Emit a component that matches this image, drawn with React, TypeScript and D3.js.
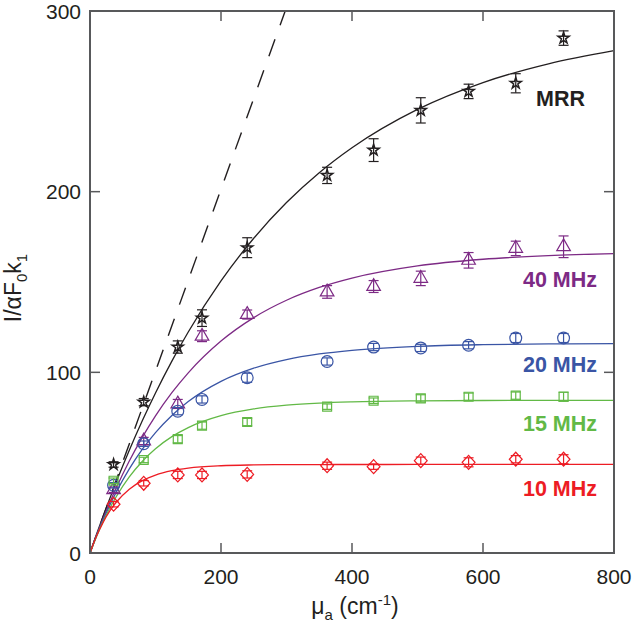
import React from 'react';
import * as d3 from 'd3';

const muA = [36, 82, 134, 171, 240, 362, 433, 505, 578, 650, 723];

const mrrVals = [49, 83.5, 114, 130, 169, 209, 223, 245, 255.5, 260, 285];
const mrrErr = [1.5, 2, 3.4, 4.6, 5.5, 4.5, 6.3, 7, 4, 5.3, 4];
const mhz40Vals = [35, 62, 82.5, 120, 132, 144.5, 147.5, 152, 162, 168.6, 169.5];
const mhz40Err = [1.5, 2, 2.5, 3, 2.5, 3.5, 3.3, 4, 4.3, 4, 6];
const mhz20Vals = [37.5, 60.5, 78.5, 85, 97, 106, 114, 113.5, 115, 119, 119];
const mhz20Err = [1.5, 1.5, 2, 2, 2.5, 2, 2, 2, 2, 2.5, 2.5];
const mhz15Vals = [40, 51.5, 63, 70.5, 72.5, 81, 84.3, 85.6, 86.5, 87.1, 86.5];
const mhz15Err = [1.5, 1.5, 2, 2, 2, 1.5, 1.5, 2, 2, 2, 2.5];
const mhz10Vals = [27, 38.6, 43.2, 43.2, 43.5, 48.3, 47.8, 51.1, 50.2, 51.9, 51.9];
const mhz10Err = [1.5, 1.5, 2, 2, 2, 2, 1.5, 2, 2.5, 2, 2.5];

// fitted curves
const fitX = [0, 10, 20, 30, 40, 60, 80, 100, 125, 150, 200, 250, 300, 350, 400, 500, 600, 700, 800];
const fitMRR = [0, 10.35, 20.32, 29.97, 39.26, 56.91, 73.31, 88.59, 106.23, 122.34, 150.6, 174.2, 193.96, 210.48, 224.29, 245.53, 260.4, 270.78, 278.07];
const fit40 = [0, 9.82, 19.05, 27.75, 35.95, 50.9, 64.16, 75.9, 88.71, 99.72, 117.3, 130.29, 139.9, 146.98, 152.2, 158.93, 162.59, 164.6, 165.69];
const fit20 = [0, 9.51, 18.22, 26.24, 33.59, 46.54, 57.45, 66.65, 76.14, 83.81, 95.0, 102.31, 107.07, 110.18, 112.21, 114.39, 115.32, 115.71, 115.88];
const fit15 = [0, 9.18, 17.36, 24.65, 31.15, 42.11, 50.81, 57.72, 64.41, 69.43, 76.02, 79.73, 81.81, 82.99, 83.65, 84.23, 84.42, 84.47, 84.49];
const fit10 = [0, 9.39, 16.98, 23.12, 28.08, 35.33, 40.07, 43.16, 45.57, 46.99, 48.3, 48.76, 48.92, 48.97, 48.99, 49, 49, 49, 49];

// dashed reference line (linear limit)
const refLineX = [0, 298];
const refLineY = [0, 300];

const xTicks = [0, 200, 400, 600, 800];
const yTicks = [0, 100, 200, 300];
const seriesLabels = ['MRR', '40 MHz', '20 MHz', '15 MHz', '10 MHz'];

const W = 632, H = 631;
const left = 90, right = 614, top = 11, bottom = 553;

const diamond = {
  draw(ctx: any, size: number) {
    const h = Math.sqrt(size) * 0.78;
    const w = h * 0.92;
    ctx.moveTo(0, -h);
    ctx.lineTo(w, 0);
    ctx.lineTo(0, h);
    ctx.lineTo(-w, 0);
    ctx.closePath();
  },
};

export default function App() {
  const x = d3.scaleLinear().domain([0, 800]).range([left, right]);
  const y = d3.scaleLinear().domain([0, 300]).range([bottom, top]);
  const line = d3.line<[number, number]>().x(d => x(d[0])).y(d => y(d[1])).curve(d3.curveMonotoneX);

  const series = [
    { name: seriesLabels[0], vals: mrrVals, err: mrrErr, fit: fitMRR, color: '#231f20', sym: d3.symbolStar, size: 38, sw: 1.5, lx: 585, ly: 106 },
    { name: seriesLabels[1], vals: mhz40Vals, err: mhz40Err, fit: fit40, color: '#7d2a85', sym: d3.symbolTriangle, size: 80, sw: 1.2, lx: 597, ly: 287 },
    { name: seriesLabels[2], vals: mhz20Vals, err: mhz20Err, fit: fit20, color: '#3a55a5', sym: d3.symbolCircle, size: 110, sw: 1.2, lx: 597, ly: 372 },
    { name: seriesLabels[3], vals: mhz15Vals, err: mhz15Err, fit: fit15, color: '#62b946', sym: d3.symbolSquare, size: 80, sw: 1.2, lx: 597, ly: 431 },
    { name: seriesLabels[4], vals: mhz10Vals, err: mhz10Err, fit: fit10, color: '#ed1c24', sym: diamond, size: 80, sw: 1.2, lx: 597, ly: 496 },
  ];

  const axisColor = '#58595b';
  const font = 'Liberation Sans, Arial, Helvetica, sans-serif';

  return (
    <svg width={W} height={H} style={{ position: 'absolute', left: 0, top: 0, background: '#fff' }} fontFamily={font}>
      <rect x={0} y={0} width={W} height={H} fill="#fff" />
      {/* dashed line */}
      <path
        d={line(refLineX.map((v, i) => [v, refLineY[i]] as [number, number])) || ''}
        fill="none" stroke="#231f20" strokeWidth={1.4} strokeDasharray="18 15"
      />
      {/* fits */}
      {series.map(s => (
        <path key={'f' + s.name} d={line(fitX.map((v, i) => [v, s.fit[i]] as [number, number])) || ''}
          fill="none" stroke={s.color} strokeWidth={1.3} />
      ))}
      {/* markers with error bars */}
      {series.map(s => (
        <g key={'m' + s.name} stroke={s.color} fill="none" strokeWidth={s.sw}>
          {muA.map((mx, i) => {
            const cx = x(mx), cy = y(s.vals[i]);
            const y0 = y(s.vals[i] - s.err[i]), y1 = y(s.vals[i] + s.err[i]);
            return (
              <g key={i}>
                <path d={d3.symbol().type(s.sym as any).size(s.size)() || ''} transform={`translate(${cx},${cy})`} />
                <line x1={cx} x2={cx} y1={y0} y2={y1} strokeWidth={1.2} />
                <line x1={cx - 5} x2={cx + 5} y1={y0} y2={y0} strokeWidth={1.2} />
                <line x1={cx - 5} x2={cx + 5} y1={y1} y2={y1} strokeWidth={1.2} />
              </g>
            );
          })}
        </g>
      ))}
      {/* frame */}
      <rect x={left} y={top} width={right - left} height={bottom - top} fill="none" stroke={axisColor} strokeWidth={2} />
      {/* ticks */}
      {xTicks.filter(t => t > 0 && t < 800).map(t => (
        <g key={'xt' + t} stroke={axisColor} strokeWidth={1.5}>
          <line x1={x(t)} x2={x(t)} y1={bottom} y2={bottom - 10} />
          <line x1={x(t)} x2={x(t)} y1={top} y2={top + 10} />
        </g>
      ))}
      {yTicks.filter(t => t > 0 && t < 300).map(t => (
        <g key={'yt' + t} stroke={axisColor} strokeWidth={1.5}>
          <line x1={left} x2={left + 10} y1={y(t)} y2={y(t)} />
          <line x1={right} x2={right - 10} y1={y(t)} y2={y(t)} />
        </g>
      ))}
      {/* tick labels */}
      {xTicks.map(t => (
        <text key={'xl' + t} x={x(t)} y={584} textAnchor="middle" fontSize={21} fill="#231f20">{t}</text>
      ))}
      {yTicks.map(t => (
        <text key={'yl' + t} x={81} y={y(t) + 7.5} textAnchor="end" fontSize={21} fill="#231f20">{t}</text>
      ))}
      {/* axis titles */}
      <text x={355} y={614} textAnchor="middle" fontSize={23} fill="#231f20">
        μ<tspan fontSize={15} dy={6}>a</tspan><tspan dy={-6}> (cm</tspan><tspan fontSize={15} dy={-9}>-1</tspan><tspan dy={9}>)</tspan>
      </text>
      <text transform="translate(21,288) rotate(-90)" textAnchor="middle" fontSize={23} fill="#231f20">
        I/αF<tspan fontSize={15} dy={6}>0</tspan><tspan dy={-6}>k</tspan><tspan fontSize={15} dy={6}>1</tspan>
      </text>
      {/* series labels */}
      {series.map(s => (
        <text key={'l' + s.name} x={s.lx} y={s.ly} textAnchor="end" fontSize={21.5} fontWeight="bold" fill={s.color}>{s.name}</text>
      ))}
    </svg>
  );
}
